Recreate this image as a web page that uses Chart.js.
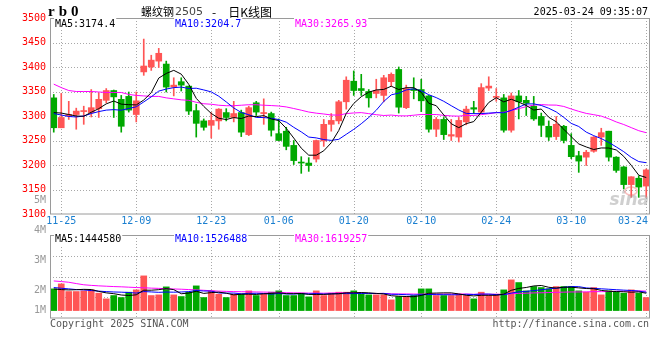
<!DOCTYPE html>
<html>
<head>
<meta charset="utf-8">
<title>螺纹钢2505 - 日K线图</title>
<script src="https://cdn.jsdelivr.net/npm/chart.js@4.4.1/dist/chart.umd.min.js"></script>
<style>
html,body{margin:0;padding:0;background:#fff;}
#wrap{position:relative;width:660px;height:360px;background:#fff;overflow:hidden;}
#wrap canvas{position:absolute;left:0;top:0;}
</style>
</head>
<body>
<div id="wrap">
<canvas id="kline" width="660" height="360"></canvas>
<canvas id="volume" width="660" height="360"></canvas>
</div>
<script>
// ---------------- data ----------------
const dates = [
 '11-22','11-25','11-26','11-27','11-28','11-29',
 '12-02','12-03','12-04','12-05','12-06',
 '12-09','12-10','12-11','12-12','12-13',
 '12-16','12-17','12-18','12-19','12-20',
 '12-23','12-24','12-25','12-26','12-27',
 '12-30','12-31','01-02','01-03',
 '01-06','01-07','01-08','01-09','01-10',
 '01-13','01-14','01-15','01-16','01-17',
 '01-20','01-21','01-22','01-23','01-24',
 '01-27','02-05','02-06','02-07',
 '02-10','02-11','02-12','02-13','02-14',
 '02-17','02-18','02-19','02-20','02-21',
 '02-24','02-25','02-26','02-27','02-28',
 '03-03','03-04','03-05','03-06','03-07',
 '03-10','03-11','03-12','03-13','03-14',
 '03-17','03-18','03-19','03-20','03-21',
 '03-24'];

const open = [3337,3276,3300,3303,3309,3307,3315,3332,3352,3334,
 3340,3303,3390,3400,3412,3406,3359,3370,3361,3311,
 3290,3281,3290,3307,3297,3307,3262,3327,3305,3305,
 3264,3269,3240,3206,3204,3212,3249,3283,3290,3329,
 3371,3356,3350,3346,3342,3370,3395,3317,3355,3354,
 3341,3273,3293,3259,3257,3288,3317,3308,3357,3338,
 3337,3271,3341,3332,3320,3299,3279,3258,3279,3240,
 3219,3216,3228,3257,3269,3216,3196,3160,3173,3157];
const high = [3344,3346,3330,3316,3320,3354,3347,3356,3353,3342,
 3349,3349,3457,3424,3438,3412,3378,3378,3361,3324,
 3294,3307,3315,3315,3330,3312,3320,3330,3335,3308,
 3294,3277,3250,3217,3215,3251,3293,3305,3332,3380,
 3392,3385,3354,3375,3383,3388,3400,3363,3378,3375,
 3342,3297,3297,3293,3297,3320,3330,3366,3380,3356,
 3344,3347,3352,3340,3340,3306,3290,3299,3281,3264,
 3228,3230,3258,3275,3269,3217,3197,3176,3178,3192];
const low = [3267,3276,3293,3273,3283,3298,3297,3327,3297,3267,
 3308,3288,3383,3393,3399,3349,3341,3351,3303,3257,
 3271,3255,3273,3290,3288,3258,3260,3301,3283,3259,
 3250,3231,3201,3183,3187,3206,3238,3269,3284,3314,
 3342,3342,3318,3337,3329,3361,3306,3315,3335,3309,
 3267,3258,3252,3250,3247,3282,3305,3305,3352,3330,
 3267,3267,3294,3301,3291,3258,3250,3252,3245,3213,
 3185,3199,3226,3240,3208,3185,3151,3134,3134,3134];
const close = [3276,3297,3303,3310,3311,3317,3334,3352,3339,3279,
 3312,3331,3402,3414,3428,3359,3363,3363,3310,3285,
 3277,3291,3314,3297,3305,3267,3317,3308,3307,3271,
 3250,3238,3209,3204,3199,3250,3283,3291,3329,3373,
 3352,3352,3337,3352,3378,3385,3318,3356,3352,3331,
 3273,3293,3262,3262,3291,3314,3314,3358,3361,3340,
 3271,3341,3329,3326,3294,3281,3257,3283,3250,3217,
 3208,3226,3257,3266,3216,3189,3160,3176,3155,3190];

const ma5 = [3307,3306,3303,3300,3299.4,3307.6,3315,3324.8,3330.6,3324.2,
 3323.2,3322.6,3332.6,3347.6,3377.4,3386.8,3393.2,3385.4,3364.6,3336,
 3319.6,3305.2,3295.4,3292.8,3296.8,3294.8,3300,3298.8,3300.8,3294,
 3290.6,3274.8,3255,3234.4,3220,3220,3229,3245.4,3270.4,3305.2,
 3325.6,3339.4,3348.6,3353.2,3354.2,3360.8,3354,3357.8,3357.8,3348.4,
 3326,3321,3302.2,3284.2,3276.2,3284.4,3288.6,3307.8,3327.6,3337.4,
 3328.8,3334.2,3328.4,3321.4,3312.2,3314.2,3297.4,3288.2,3273,3257.6,
 3243,3236.8,3231.6,3234.8,3234.6,3230.8,3217.6,3199.4,3179.2,3174.4];
const ma10 = [3305,3302,3299,3298,3300,3305,3309,3312,3313,3311.8,
 3315.4,3318.8,3328.7,3339.1,3350.8,3355.0,3357.9,3359.0,3356.1,3356.7,
 3353.2,3349.2,3340.4,3328.7,3316.4,3307.2,3302.6,3297.1,3296.8,3295.4,
 3292.7,3287.4,3276.9,3267.6,3257.0,3255.3,3251.9,3250.2,3252.4,3262.6,
 3272.8,3284.2,3297.0,3311.8,3329.7,3343.2,3346.7,3353.2,3355.5,3351.3,
 3343.4,3337.5,3330.0,3321.0,3312.3,3305.2,3304.8,3305.0,3305.9,3306.8,
 3306.6,3311.4,3318.1,3324.5,3324.8,3321.5,3315.8,3308.3,3297.2,3284.9,
 3278.6,3267.1,3259.9,3253.9,3246.1,3236.9,3227.2,3215.5,3207.0,3204.7];
const ma30 = [3365,3358,3352,3350,3350,3350,3349,3348,3348,3348,
 3344,3342,3341,3340,3340,3337,3335,3333,3332,3328,
 3325,3324,3322,3321,3321,3322,3323,3323,3322,3321.3,
 3320.4,3318.5,3315.3,3311.8,3308.1,3305.8,3304.1,3302.1,3301.8,3304.9,
 3306.2,3306.9,3304.8,3302.7,3301.0,3301.9,3300.4,3300.2,3301.6,3303.1,
 3303.0,3303.0,3301.3,3300.1,3299.7,3301.2,3301.1,3302.8,3304.6,3306.9,
 3307.6,3311.0,3315.0,3319.1,3322.3,3323.3,3322.4,3322.2,3319.5,3314.3,
 3309.5,3305.3,3302.7,3299.8,3294.4,3287.9,3282.6,3276.3,3270.0,3265.93];

// volume, in millions of lots
const volM = [1.808,2.225,1.586,1.586,1.642,1.725,1.447,0.975,1.253,1.086,
 1.531,1.725,2.892,1.253,1.308,1.975,1.308,1.169,1.531,2.058,
 1.086,1.642,1.364,1.086,1.364,1.364,1.642,1.253,1.364,1.531,
 1.642,1.253,1.253,1.447,1.142,1.642,1.253,1.447,1.531,1.531,
 1.642,1.364,1.308,1.308,1.308,0.892,1.169,1.169,1.253,1.808,
 1.808,1.253,1.253,1.253,1.364,1.253,0.975,1.531,1.253,1.364,
 1.725,2.558,2.336,1.642,2.003,1.919,1.808,2.003,2.003,2.003,
 1.642,1.531,1.919,1.308,1.642,1.531,1.447,1.725,1.447,1.086];
const volMa5 = [1.80,1.75,1.72,1.74,1.769,1.753,1.597,1.475,1.408,1.297,
 1.258,1.314,1.697,1.697,1.742,1.831,1.747,1.403,1.458,1.608,
 1.430,1.497,1.536,1.447,1.308,1.364,1.364,1.342,1.397,1.431,
 1.486,1.409,1.409,1.425,1.347,1.347,1.347,1.386,1.403,1.481,
 1.481,1.503,1.475,1.431,1.386,1.236,1.197,1.169,1.158,1.258,
 1.441,1.458,1.475,1.475,1.386,1.275,1.220,1.275,1.275,1.275,
 1.370,1.686,1.847,1.925,2.053,2.092,1.942,1.875,1.947,1.947,
 1.892,1.836,1.820,1.681,1.608,1.586,1.569,1.531,1.558,1.4446];
const volMa10 = [1.92,1.86,1.81,1.75,1.72,1.67,1.62,1.58,1.55,1.533,
 1.506,1.456,1.586,1.553,1.520,1.545,1.531,1.550,1.578,1.675,
 1.631,1.622,1.469,1.453,1.458,1.397,1.431,1.439,1.422,1.370,
 1.425,1.386,1.375,1.411,1.389,1.417,1.378,1.397,1.414,1.414,
 1.414,1.425,1.431,1.417,1.433,1.358,1.350,1.322,1.294,1.322,
 1.339,1.328,1.322,1.317,1.322,1.358,1.339,1.375,1.375,1.331,
 1.322,1.453,1.561,1.600,1.664,1.731,1.814,1.861,1.936,2.000,
 1.992,1.889,1.847,1.814,1.778,1.739,1.703,1.675,1.620,1.5265];
const volMa30 = [2.47,2.42,2.36,2.25,2.15,2.10,2.06,2.03,2.00,1.98,
 1.95,1.92,1.90,1.87,1.85,1.82,1.80,1.78,1.75,1.72,
 1.69,1.65,1.62,1.60,1.58,1.57,1.56,1.55,1.54,1.526,
 1.520,1.488,1.477,1.472,1.456,1.453,1.446,1.462,1.471,1.486,
 1.490,1.478,1.425,1.427,1.427,1.391,1.386,1.386,1.377,1.369,
 1.393,1.380,1.376,1.382,1.382,1.378,1.356,1.365,1.361,1.356,
 1.358,1.402,1.438,1.445,1.473,1.482,1.501,1.519,1.535,1.551,
 1.551,1.557,1.577,1.577,1.588,1.609,1.619,1.637,1.644,1.6193];

const priceTicks = [3100,3150,3200,3250,3300,3350,3400,3450,3500];
const dateTicks = ['11-25','12-09','12-23','01-06','01-20','02-10','02-24','03-10','03-24'];
const volTickValues = [1,2,3,4,5];
const volTickLabels = ['1M','2M','3M','4M','5M'];

const symbolCode = 'rb0';
const titleName = '螺纹钢';
const titleContract = '2505';
const titleSep = '-';
const titleKind = '日K线图';
const timestamp = '2025-03-24 09:35:07';
const priceLegend = ['MA5:3174.4','MA10:3204.7','MA30:3265.93'];
const volLegend = ['MA5:1444580','MA10:1526488','MA30:1619257'];
const copyrightText = 'Copyright 2025 SINA.COM';
const urlText = 'http://finance.sina.com.cn';
const watermarkText = 'sina';

// ---------------- styles ----------------
const UP = '#ff5555', DOWN = '#00a800';
const C_MA5 = '#000000', C_MA10 = '#0000ff', C_MA30 = '#ff00ff';
const GRID = '#a8a8a8', BORDER = '#9a9a9a';
const MONO = '"DejaVu Sans Mono", monospace';
const LEGEND_X = [55, 175, 295];
const LEGEND_C = [C_MA5, C_MA10, C_MA30];

const barColors = close.map((c, i) => c >= open[i] ? UP : DOWN);

function lineDs(label, data, color) {
  return {type: 'line', label, data, borderColor: color, borderWidth: 1,
          pointRadius: 0, pointHoverRadius: 0, tension: 0, fill: false, order: 0};
}
function hline(ctx, x1, x2, y) { ctx.beginPath(); ctx.moveTo(x1, y); ctx.lineTo(x2, y); ctx.stroke(); }
function vline(ctx, x, y1, y2) { ctx.beginPath(); ctx.moveTo(x, y1); ctx.lineTo(x, y2); ctx.stroke(); }
function dateGrid(chart) {
  const {ctx, chartArea: a, scales: {x}} = chart;
  dateTicks.forEach(d => {
    const px = Math.round(x.getPixelForValue(dates.indexOf(d))) + 0.5;
    if (px < a.right - 1) vline(ctx, px, a.top, a.bottom);
  });
}
function legendRow(ctx, texts, y) {
  ctx.font = '10px ' + MONO; ctx.textBaseline = 'middle'; ctx.textAlign = 'left';
  texts.forEach((t, i) => {
    const w = ctx.measureText(t).width;
    ctx.fillStyle = '#ffffff'; ctx.fillRect(LEGEND_X[i] - 1, y - 6, w + 2, 12);
    ctx.fillStyle = LEGEND_C[i]; ctx.fillText(t, LEGEND_X[i], y);
  });
}
function border(ctx, a) {
  ctx.setLineDash([]); ctx.strokeStyle = BORDER; ctx.lineWidth = 1;
  ctx.strokeRect(a.left + 0.5, a.top + 0.5, a.right - a.left - 1, a.bottom - a.top - 0.5);
}

// ---------------- price chart ----------------
const mainDeco = {
  id: 'mainDeco',
  beforeDatasetsDraw(chart) {
    const {ctx, chartArea: a, scales: {y}} = chart;
    ctx.save();
    ctx.strokeStyle = GRID; ctx.lineWidth = 1; ctx.setLineDash([1, 2]);
    priceTicks.forEach(v => {
      if (v <= y.min || v >= y.max) return;
      hline(ctx, a.left, a.right, Math.round(y.getPixelForValue(v)) + 0.5);
    });
    dateGrid(chart);
    ctx.restore();
  },
  afterDraw(chart) {
    const {ctx, chartArea: a, scales: {x, y}} = chart;
    ctx.save();
    border(ctx, a);
    // watermark
    ctx.font = 'italic bold 17px "DejaVu Sans"'; ctx.fillStyle = 'rgba(160,160,160,0.5)';
    ctx.textAlign = 'right'; ctx.textBaseline = 'alphabetic';
    ctx.fillText(watermarkText, a.right - 1, a.bottom - 9);
    ctx.strokeStyle = 'rgba(240,110,110,0.45)'; ctx.lineWidth = 1.5;
    ctx.beginPath(); ctx.ellipse(a.right - 19, a.bottom - 23, 6, 4, 0, 0, Math.PI * 2); ctx.stroke();
    // y labels
    ctx.font = '10px ' + MONO; ctx.fillStyle = '#ff0000'; ctx.textAlign = 'right'; ctx.textBaseline = 'middle';
    priceTicks.forEach(v => ctx.fillText(String(v), a.left - 4, y.getPixelForValue(v)));
    // x labels
    ctx.fillStyle = '#1a7fd0'; ctx.textAlign = 'center';
    dateTicks.forEach(d => {
      const w = ctx.measureText(d).width;
      const px = Math.min(x.getPixelForValue(dates.indexOf(d)), a.right - 2 - w / 2);
      ctx.fillText(d, px, a.bottom + 7);
    });
    // legend row
    legendRow(ctx, priceLegend, a.top + 6);
    // header
    ctx.fillStyle = '#000'; ctx.textAlign = 'left'; ctx.textBaseline = 'middle';
    ctx.font = 'bold 15px "Liberation Serif"';
    if ('letterSpacing' in ctx) ctx.letterSpacing = '4px';
    ctx.fillText(symbolCode, 48, 12);
    if ('letterSpacing' in ctx) ctx.letterSpacing = '0px';
    let tx = 141;
    ctx.font = '11px "Noto Sans CJK SC"'; ctx.fillText(titleName, tx, 12);
    tx += ctx.measureText(titleName).width + 1;
    ctx.font = '11px "DejaVu Sans"'; ctx.fillStyle = '#444'; ctx.fillText(titleContract, tx, 12);
    tx += ctx.measureText(titleContract).width + 9;
    ctx.fillStyle = '#000'; ctx.font = '12px "Noto Sans CJK SC"';
    ctx.fillText(titleSep, tx, 12);
    tx += ctx.measureText(titleSep).width + 12;
    ctx.fillText(titleKind, tx, 12);
    ctx.font = '10px ' + MONO; ctx.textAlign = 'right'; ctx.fillText(timestamp, 648, 12);
    ctx.restore();
  }
};

new Chart(document.getElementById('kline'), {
  type: 'bar',
  data: {
    labels: dates,
    datasets: [
      lineDs('MA5', ma5, C_MA5),
      lineDs('MA10', ma10, C_MA10),
      lineDs('MA30', ma30, C_MA30),
      {label: 'body', data: open.map((o, i) => [o, close[i]]), backgroundColor: barColors,
       barThickness: 6, grouped: false, minBarLength: 1, order: 1},
      {label: 'wick', data: low.map((l, i) => [l, high[i]]), backgroundColor: barColors,
       barThickness: 1, grouped: false, order: 2}
    ]
  },
  options: {
    responsive: false, animation: false, devicePixelRatio: 1,
    layout: {padding: {left: 50, right: 10, top: 18, bottom: 146}},
    plugins: {legend: {display: false}, tooltip: {enabled: false}},
    scales: {
      x: {type: 'category', display: false, offset: true},
      y: {type: 'linear', display: false, min: 3100, max: 3500}
    }
  },
  plugins: [mainDeco]
});

// ---------------- volume chart ----------------
const volDeco = {
  id: 'volDeco',
  beforeDatasetsDraw(chart) {
    const {ctx, chartArea: a, scales: {y}} = chart;
    ctx.save();
    ctx.strokeStyle = GRID; ctx.lineWidth = 1; ctx.setLineDash([1, 2]);
    const q = (y.max - y.min) / 4;
    for (let k = 1; k < 4; k++) hline(ctx, a.left, a.right, Math.round(y.getPixelForValue(y.min + q * k)) + 0.5);
    dateGrid(chart);
    ctx.restore();
  },
  afterDraw(chart) {
    const {ctx, chartArea: a, scales: {y, yl}} = chart;
    ctx.save();
    border(ctx, a);
    ctx.font = '10px ' + MONO; ctx.fillStyle = '#999999'; ctx.textAlign = 'right'; ctx.textBaseline = 'middle';
    const base = y.getPixelForValue(0);
    volTickValues.forEach((v, i) => ctx.fillText(volTickLabels[i], a.left - 4, Math.min(yl.getPixelForValue(v), base)));
    legendRow(ctx, volLegend, a.top + 4);
    ctx.font = '10px ' + MONO; ctx.fillStyle = '#555555'; ctx.textBaseline = 'middle';
    ctx.textAlign = 'left'; ctx.fillText(copyrightText, a.left, a.bottom + 6);
    ctx.textAlign = 'right'; ctx.fillText(urlText, a.right - 1, a.bottom + 6);
    ctx.restore();
  }
};

new Chart(document.getElementById('volume'), {
  type: 'bar',
  data: {
    labels: dates,
    datasets: [
      lineDs('VMA5', volMa5, C_MA5),
      lineDs('VMA10', volMa10, C_MA10),
      lineDs('VMA30', volMa30, C_MA30),
      {label: 'volume', data: volM, backgroundColor: barColors, barThickness: 6, order: 1}
    ]
  },
  options: {
    responsive: false, animation: false, devicePixelRatio: 1,
    layout: {padding: {left: 50, right: 10, top: 235, bottom: 42}},
    plugins: {legend: {display: false}, tooltip: {enabled: false}},
    scales: {
      x: {type: 'category', display: false, offset: true},
      y: {type: 'linear', display: false, min: -0.62, max: 6.3},
      yl: {type: 'linear', axis: 'y', display: false, min: 1.09, max: 3.857}
    }
  },
  plugins: [volDeco]
});
</script>
</body>
</html>
